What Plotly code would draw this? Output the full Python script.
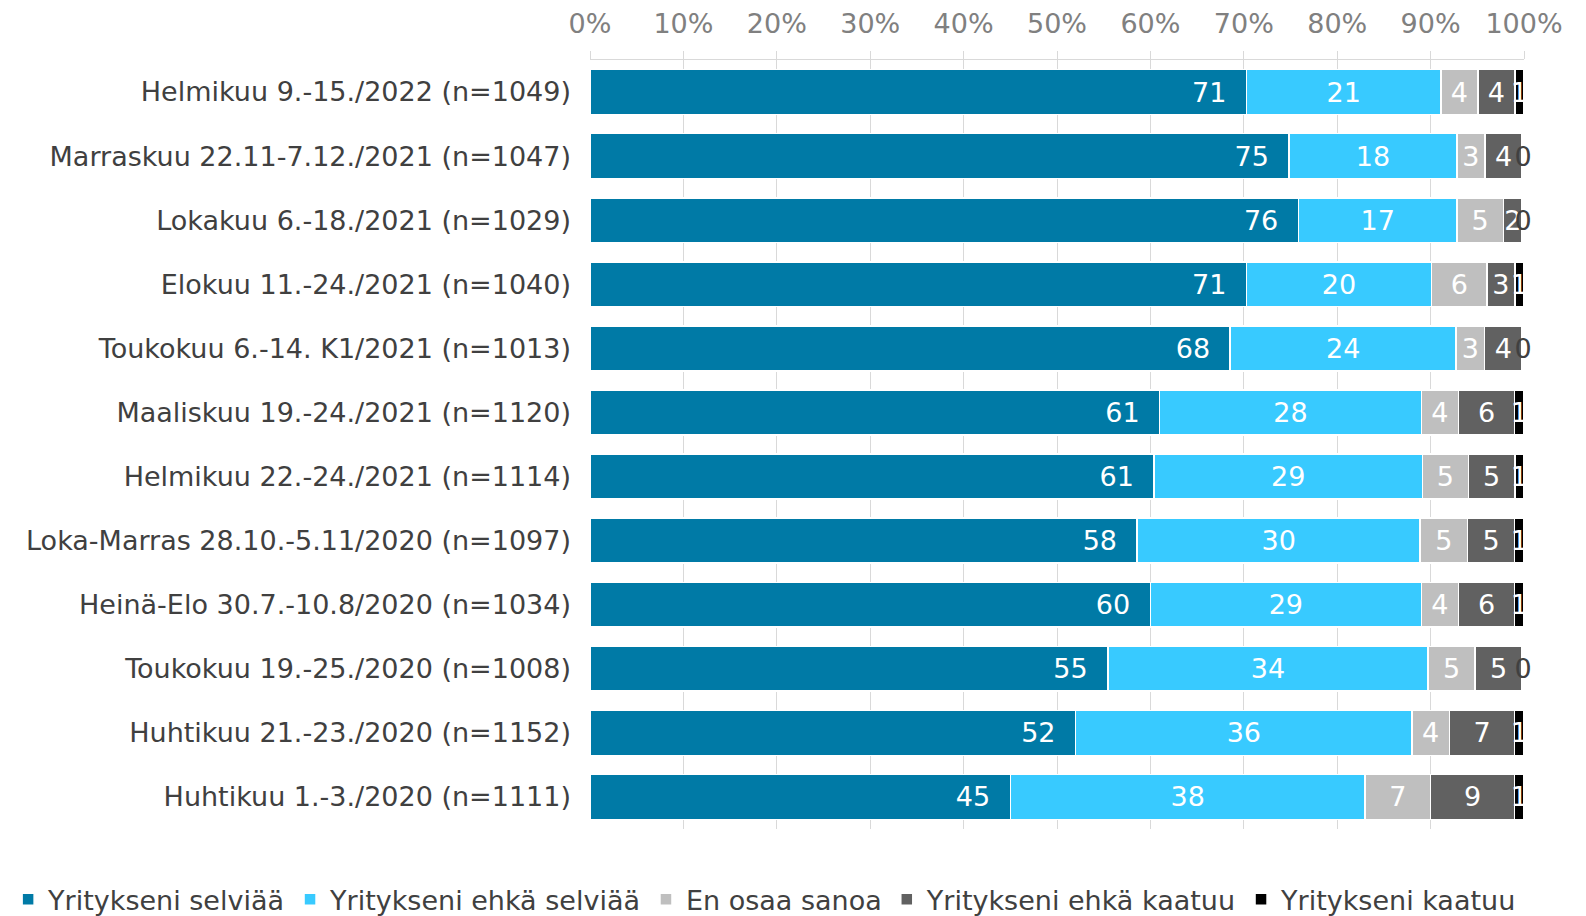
import plotly.graph_objects as go

# rivit ylhäältä alas
kategoriat = [
    "Helmikuu 9.-15./2022 (n=1049)",
    "Marraskuu 22.11-7.12./2021 (n=1047)",
    "Lokakuu 6.-18./2021 (n=1029)",
    "Elokuu 11.-24./2021 (n=1040)",
    "Toukokuu 6.-14. K1/2021 (n=1013)",
    "Maaliskuu 19.-24./2021 (n=1120)",
    "Helmikuu 22.-24./2021 (n=1114)",
    "Loka-Marras 28.10.-5.11/2020 (n=1097)",
    "Heinä-Elo 30.7.-10.8/2020 (n=1034)",
    "Toukokuu 19.-25./2020 (n=1008)",
    "Huhtikuu 21.-23./2020 (n=1152)",
    "Huhtikuu 1.-3./2020 (n=1111)",
]

selviaa = [71, 75, 76, 71, 68, 61, 61, 58, 60, 55, 52, 45]
ehka_selviaa = [21, 18, 17, 20, 24, 28, 29, 30, 29, 34, 36, 38]
en_osaa = [4, 3, 5, 6, 3, 4, 5, 5, 4, 5, 4, 7]
ehka_kaatuu = [4, 4, 2, 3, 4, 6, 5, 5, 6, 5, 7, 9]
kaatuu = [1, 0.2, 0.2, 1, 0.2, 1, 1, 1, 1, 0.2, 1, 1]

sarjat = [
    ("Yritykseni selviää", selviaa, "#007aa6"),
    ("Yritykseni ehkä selviää", ehka_selviaa, "#38caff"),
    ("En osaa sanoa", en_osaa, "#bfbfbf"),
    ("Yritykseni ehkä kaatuu", ehka_kaatuu, "#616161"),
    ("Yritykseni kaatuu", kaatuu, "#000000"),
]

FONT = "DejaVu Sans"

fig = go.Figure()
for i, (nimi, arvot, vari) in enumerate(sarjat):
    tekstit = [f"{v:.0f}" for v in arvot]
    if i == 0:
        tekstit = [t + "\u00a0\u00a0" for t in tekstit]
    varit = ["#404040" if round(v) == 0 else "white" for v in arvot]
    fig.add_bar(
        y=kategoriat, x=arvot, name=nimi, orientation="h",
        marker=dict(color=vari, line=dict(color="white", width=1.5)),
        text=tekstit, textposition="inside",
        insidetextanchor="end" if i == 0 else "middle",
        textfont=dict(family=FONT, size=27, color=varit),
        width=0.7, hoverinfo="skip",
        cliponaxis=(i != 4),
    )

fig.update_layout(
    barmode="stack", barnorm="percent",
    width=1586, height=916,
    margin=dict(l=582, r=70, t=52, b=95, autoexpand=False),
    plot_bgcolor="white", paper_bgcolor="white",
    font=dict(family=FONT, color="#404040"),
    uniformtext=dict(minsize=27, mode="show"),
    legend=dict(
        orientation="h",
        x=-0.623, y=-0.092, xanchor="left", yanchor="middle",
        font=dict(family=FONT, size=27, color="#404040"),
        traceorder="normal",
    ),
    showlegend=True,
)
fig.update_xaxes(
    side="top", range=[0, 100], dtick=10, ticksuffix="%",
    tickfont=dict(family=FONT, size=27, color="#808080"),
    showgrid=True, gridcolor="#d9d9d9", gridwidth=1,
    zeroline=False, showline=True, linecolor="#d9d9d9",
    ticks="outside", ticklen=8, tickcolor="#d9d9d9",
    ticklabelstandoff=7,
)
fig.update_yaxes(
    autorange="reversed",
    tickfont=dict(family=FONT, size=27, color="#404040"),
    showgrid=False, ticklabelstandoff=18,
)

fig.write_html("out.html")
